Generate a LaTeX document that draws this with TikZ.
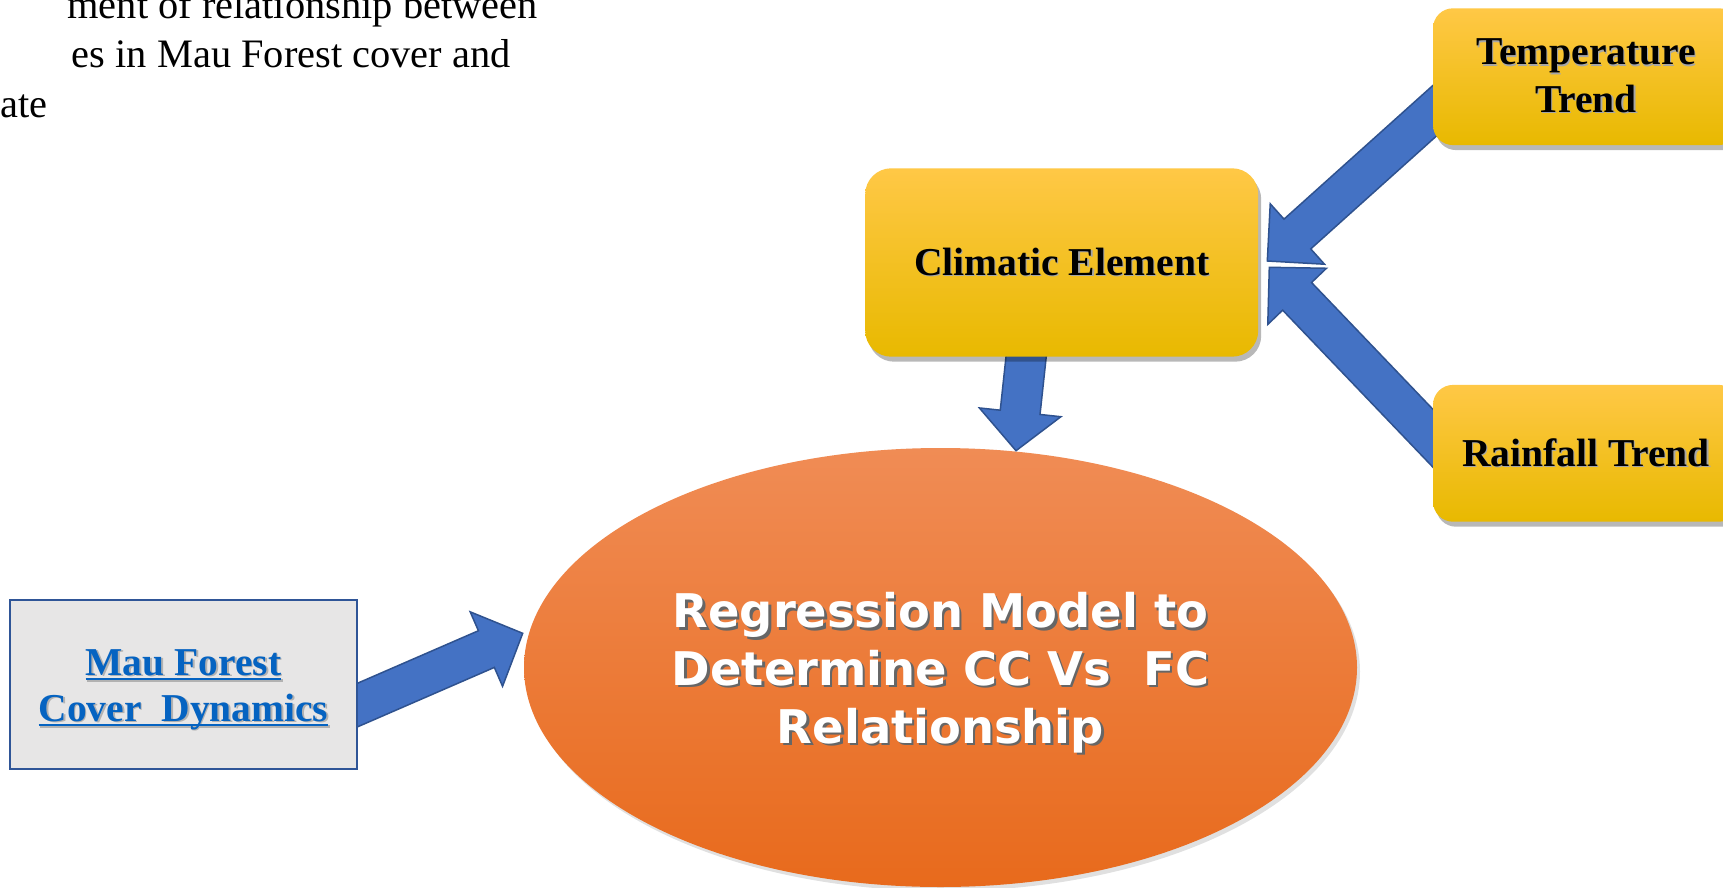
\documentclass[tikz,border=0pt]{standalone}
\usepackage{fontspec}
\setmainfont{Liberation Serif}
\newfontfamily\regfont{DejaVu Sans}
\usetikzlibrary{shapes.geometric,calc}
\definecolor{arrfill}{HTML}{4472C4}
\definecolor{arredge}{HTML}{2F528F}
\definecolor{ytop}{RGB}{255,200,70}
\definecolor{ymid}{RGB}{255,192,0}
\definecolor{ybot}{RGB}{232,185,0}
\definecolor{otop}{RGB}{240,140,85}
\definecolor{omid}{RGB}{243,125,42}
\definecolor{obot}{RGB}{232,106,28}
\definecolor{maufill}{HTML}{E7E6E6}
\definecolor{mauedge}{HTML}{2F5597}
\definecolor{maublue}{HTML}{0563C1}
\newcommand\shtxt[3][black!35]{\leavevmode\rlap{\kern#2\raisebox{-#2}{\color{#1}#3}}#3}
\newcommand\ulbox[1]{\setbox0=\hbox{#1}\rlap{\rule[-0.12em]{\wd0}{0.06em}}\box0}
\newcommand\mauline[1]{\leavevmode\rlap{\kern0.8pt\raisebox{-0.8pt}{\color{black!30}\ulbox{#1}}}\ulbox{#1}}
\newcommand\blockarrow[5]{%
  \coordinate (#1#2h) at ($(#2)!#5!(#1)$);
  \path[barrow] ($(#1)!#3!90:(#2)$) -- ($(#1#2h)!#3!90:(#2)$) -- ($(#1#2h)!#4!90:(#2)$)
    -- (#2) -- ($(#1#2h)!#4!-90:(#2)$) -- ($(#1#2h)!#3!-90:(#2)$) -- ($(#1)!#3!-90:(#2)$) -- cycle;
}
\tikzset{
  barrow/.style={fill=arrfill, draw=arredge, line width=0.75pt, line join=miter},
  ybox/.style={rectangle, rounded corners=#1, inner sep=0pt, top color=ytop, middle color=ymid, bottom color=ybot,
    preaction={fill=black, opacity=0.28, transform canvas={xshift=1.5pt, yshift=-2.5pt}},
    font=\bfseries\fontsize{19.75pt}{23.85pt}\selectfont, align=center},
  maubox/.style={rectangle, draw=mauedge, line width=1pt, fill=maufill, inner sep=0pt,
    font=\bfseries\fontsize{19.75pt}{23pt}\selectfont, text=maublue, align=center},
  regbox/.style={ellipse, inner sep=0pt, top color=otop, middle color=omid, bottom color=obot,
    preaction={fill=black, opacity=0.12, transform canvas={xshift=1.5pt, yshift=-2pt}},
    font=\regfont\bfseries\fontsize{23.2pt}{28.85pt}\selectfont, text=white, align=center},
  titletxt/.style={inner sep=0pt, font=\fontsize{20.2pt}{24pt}\selectfont}
}
\begin{document}
\begin{tikzpicture}[x=0.5pt, y=-0.5pt]
\useasboundingbox (0,0) rectangle (1723,888);
\clip (0,0) rectangle (1723,888);
\fill[white] (0,0) rectangle (1723,888);
% title fragment
\node[titletxt, anchor=base east] (t1) at (538,19) {ment of relationship between};
\node[titletxt, anchor=base east] (t2) at (511,68) {es in Mau Forest cover and};
\node[titletxt, anchor=base west] (t3) at (0,117.6) {ate};
% ellipse
\node[regbox, minimum width=416.5pt, minimum height=219.5pt] (reg) at (940.5,667.5)
  {\rule{0pt}{24.1pt}\shtxt[black!60]{1.2pt}{Regression Model to}\\ \shtxt[black!60]{1.2pt}{Determine CC Vs\ \ FC}\\ \shtxt[black!60]{1.2pt}{Relationship}};
% arrow end points
\coordinate (mautail) at (330,717);
\coordinate (mautip) at (522.7,633.3);
\coordinate (climtail) at (1029,330);
\coordinate (climtip) at (1016,450.7);
\coordinate (temptail) at (1470,79);
\coordinate (temptip) at (1267.3,261);
\coordinate (raintail) at (1470,477);
\coordinate (raintip) at (1269.3,267.3);
\blockarrow{mautail}{mautip}{10pt}{20.3pt}{19.8pt}
\blockarrow{climtail}{climtip}{10pt}{20.5pt}{19.3pt}
\blockarrow{temptail}{temptip}{10pt}{20.3pt}{20.2pt}
\blockarrow{raintail}{raintip}{10pt}{20.3pt}{20.1pt}
% boxes
\node[ybox=13pt, minimum width=196.5pt, minimum height=94.2pt] (clim) at (1061.7,262.5)
  {\shtxt{0.6pt}{Climatic Element}};
\node[ybox=10pt, minimum width=153pt, minimum height=68.4pt] (temp) at (1586,76.7)
  {\shtxt{0.6pt}{Temperature}\\ \shtxt{0.6pt}{Trend}};
\node[ybox=10pt, minimum width=153pt, minimum height=68.4pt] (rain) at (1586,453.3)
  {\shtxt{0.6pt}{Rainfall Trend}};
\node[maubox, minimum width=173.5pt, minimum height=84.5pt] (mau) at (183.5,684.5)
  {\rule{0pt}{18.9pt}\mauline{Mau Forest}\\ \mauline{Cover\ \ Dynamics}};
\end{tikzpicture}
\end{document}
